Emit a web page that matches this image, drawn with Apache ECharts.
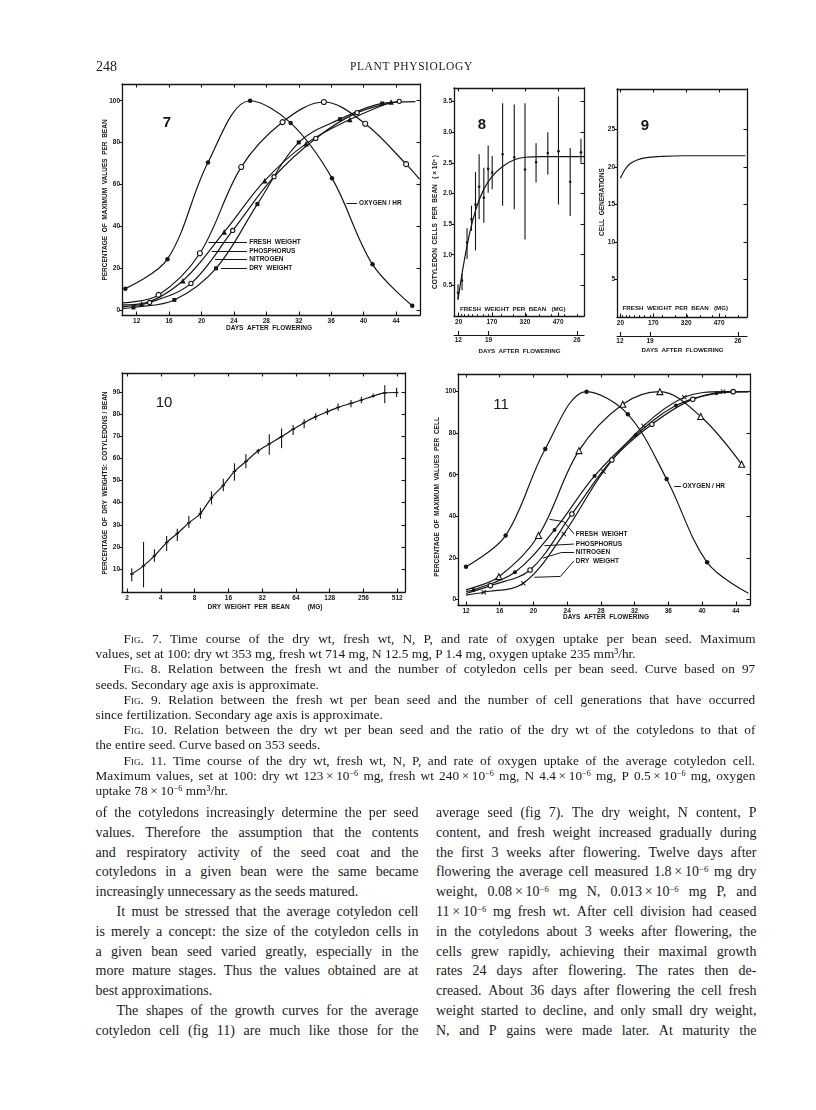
<!DOCTYPE html>
<html><head><meta charset="utf-8">
<script src="https://cdn.jsdelivr.net/npm/echarts@6/dist/echarts.min.js"></script>
<style>
html,body{margin:0;padding:0;background:#fff;}
#page{position:relative;width:816px;height:1110px;overflow:hidden;background:#fff;}
#chart{position:absolute;left:0;top:0;width:816px;height:640px;}
.ln{position:absolute;font-family:"Liberation Serif","Times New Roman",serif;color:#1a1a1a;white-space:pre;line-height:1;}
.ln.j{display:flex;justify-content:space-between;}
.ln sup{font-size:0.62em;vertical-align:0.45em;line-height:0;}
.sc{font-variant:small-caps;}
.hd{position:absolute;font-family:"Liberation Serif",serif;color:#1a1a1a;white-space:pre;}
</style></head>
<body><div id="page"><div id="chart"></div></div>
<script>
// ================= DATA =================
// Fig. 7 — per bean, % of maximum vs days after flowering
const f7XTicks = [12,16,20,24,28,32,36,40,44];
const f7YTicks = [0,20,40,60,80,100];
const f7Oxygen = [[10.6,10.2],[15.8,24.3],[20.8,70.5],[26.0,100],[31.0,89.4],[36.1,63],[41.1,21.8],[46.0,2]];
const f7Fresh  = [[10.3,3.4],[14.7,7.2],[19.8,27.1],[24.9,68.3],[30.0,89.8],[35.1,99.4],[40.2,89],[45.25,69.7],[46.9,62.5]];
const f7FreshBare = [0,8];
const f7Phos   = [[10.3,2.4],[12.6,3.0],[17.7,14],[22.8,37.3],[27.8,61.8],[32.9,79.5],[38.3,91],[43.4,99.4]];
const f7PhosBare = [0];
const f7Nitro  = [[10.3,1.6],[13.6,3.6],[18.7,12.7],[23.85,38],[28.95,63.7],[34.1,82],[39.2,94.3],[44.4,99.7]];
const f7NitroBare = [0];
const f7Dry    = [[10.3,0.8],[11.6,1.2],[16.65,4.8],[21.8,19.9],[26.9,50.6],[32.0,80.1],[37.1,91.2],[42.3,98.7],[46.4,99.6]];
const f7DryBare = [0,8];

// Fig. 8 — cotyledon cells per bean (x10^6) vs fresh weight per bean (mg)
const f8XTicks = [20,170,320,470];
const f8YTicks = [0.5,1.0,1.5,2.0,2.5,3.0,3.5];
const f8FW   = [16.8,35,57.7,77.7,95.9,112.3,133.6,153.2,171.4,218.6,271.4,320,370,423.2,471.4,524.5,573.2];
const f8Mean = [0.38,0.58,1.2,1.58,1.82,2.11,1.93,2.4,2.34,2.64,2.59,2.39,2.51,2.66,2.69,2.19,2.67];
const f8Hi   = [0.52,0.69,1.43,1.8,2.35,2.64,2.42,2.78,2.61,3.47,3.45,3.47,2.82,3.0,3.58,2.74,2.89];
const f8Lo   = [0.26,0.42,0.93,1.39,1.07,1.58,1.52,2.01,2.07,1.8,1.74,1.25,2.18,2.31,1.82,1.63,2.5];
const f8Curve = [[17,0.28],[57.7,1.15],[95.9,1.72],[133.6,2.07],[171.4,2.28],[218.6,2.44],[271.4,2.55],[320,2.59],[396,2.6],[588,2.6]];

// secondary age axis (days after flowering) placed along fresh weight
const ageDays  = [12,13,14,15,16,17,18,19,20,21,22,23,24,25,26];
const ageFW    = [18,30,45,62,82,105,129,155,212,269,326,383,440,497,555];
const ageMajor = [12,19,26];

// Fig. 9 — cell generations vs fresh weight per bean
const f9XTicks = [20,170,320,470];
const f9YTicks = [5,10,15,20,25];
const f9Curve = [[20,18.5],[39.7,19.6],[62.5,20.4],[93,20.9],[139,21.25],[200,21.4],[306,21.5],[590,21.5]];

// Fig. 10 — % dry weight in cotyledons vs dry weight per bean (log2 axis)
const f10XTicks = [2,4,8,16,32,64,128,256,512];
const f10YTicks = [10,20,30,40,50,60,70,80,90];
const f10DW   = [2.2,2.8,3.5,4.5,5.6,7.1,9,11.3,14.4,18.1,22.9,29.5,37,47.6,60.4,75.7,96,122,152,198,245,312,396,505];
const f10Mean = [7.8,11.5,16,22,26.1,30.9,35.1,42.2,47.8,54.1,58.6,63.4,66.5,69.8,73.1,76.1,78.8,81,83,84.8,86.3,88.1,89.5,89.7];
const f10Hi   = [10.4,22.3,19,25,28.2,34,37.7,45.1,50.8,57.8,62,64.3,70.9,73.5,75,77.6,80.3,82.5,84.7,86.3,87.8,89.2,93,91.9];
const f10Lo   = [4.5,1.8,13.4,18.2,22.7,28.7,32.7,39.2,45.1,49.9,55.5,62,61.6,64.6,70.5,73.6,77.3,79.6,81.5,83,84.8,87.5,84.8,87.7];

// Fig. 11 — per cotyledon cell, % of maximum vs days after flowering
const f11XTicks = [12,16,20,24,28,32,36,40,44];
const f11YTicks = [0,20,40,60,80,100];
const f11Oxygen = [[12,15.7],[16.7,30.7],[21.4,72.4],[26.3,100],[31.2,89.1],[35.8,57.9],[40.6,17.8],[45.5,2.9]];
const f11OxygenBare = [7];
const f11Fresh  = [[12,4.6],[15.9,10.9],[20.6,30.7],[25.4,71.6],[30.6,93.9],[35.0,100],[39.85,88],[44.7,65]];
const f11FreshBare = [0];
const f11Phos   = [[12,3.8],[12.9,4.5],[17.8,13],[22.5,33.4],[27.25,59.4],[32.15,79.1],[36.9,93.3],[41.7,99.2],[45.5,100]];
const f11PhosBare = [0,8];
const f11Nitro  = [[12,2.8],[14.9,6.6],[19.6,14.1],[24.56,41.1],[29.3,67.1],[34.05,84.3],[38.9,96.3],[43.7,100],[45.5,100]];
const f11NitroBare = [0,8];
const f11Dry    = [[12,2.0],[14.1,3.4],[18.8,7.7],[23.6,31.5],[28.3,61.5],[33.06,83.5],[37.9,97.3],[42.5,100],[45.5,100]];
const f11DryBare = [0,8];

// ================= TEXT =================
const capLines = [
 "\tFig. 7. Time course of the dry wt, fresh wt, N, P, and rate of oxygen uptake per bean seed. Maximum",
 "values, set at 100: dry wt 353 mg, fresh wt 714 mg, N 12.5 mg, P 1.4 mg, oxygen uptake 235 mm³/hr.\n",
 "\tFig. 8. Relation between the fresh wt and the number of cotyledon cells per bean seed. Curve based on 97",
 "seeds. Secondary age axis is approximate.\n",
 "\tFig. 9. Relation between the fresh wt per bean seed and the number of cell generations that have occurred",
 "since fertilization. Secondary age axis is approximate.\n",
 "\tFig. 10. Relation between the dry wt per bean seed and the ratio of the dry wt of the cotyledons to that of",
 "the entire seed. Curve based on 353 seeds.\n",
 "\tFig. 11. Time course of the dry wt, fresh wt, N, P, and rate of oxygen uptake of the average cotyledon cell.",
 "Maximum values, set at 100: dry wt 123×10^-6 mg, fresh wt 240×10^-6 mg, N 4.4×10^-6 mg, P 0.5×10^-6 mg, oxygen",
 "uptake 78×10^-6 mm³/hr.\n"
];
const leftLines = [
 "of the cotyledons increasingly determine the per seed",
 "values. Therefore the assumption that the contents",
 "and respiratory activity of the seed coat and the",
 "cotyledons in a given bean were the same became",
 "increasingly unnecessary as the seeds matured.\n",
 "\tIt must be stressed that the average cotyledon cell",
 "is merely a concept: the size of the cotyledon cells in",
 "a given bean seed varied greatly, especially in the",
 "more mature stages. Thus the values obtained are at",
 "best approximations.\n",
 "\tThe shapes of the growth curves for the average",
 "cotyledon cell (fig 11) are much like those for the"
];
const rightLines = [
 "average seed (fig 7). The dry weight, N content, P",
 "content, and fresh weight increased gradually during",
 "the first 3 weeks after flowering. Twelve days after",
 "flowering the average cell measured 1.8×10^-6 mg dry",
 "weight, 0.08×10^-6 mg N, 0.013×10^-6 mg P, and",
 "11×10^-6 mg fresh wt. After cell division had ceased",
 "in the cotyledons about 3 weeks after flowering, the",
 "cells grew rapidly, achieving their maximal growth",
 "rates 24 days after flowering. The rates then de-",
 "creased. About 36 days after flowering the cell fresh",
 "weight started to decline, and only small dry weight,",
 "N, and P gains were made later. At maturity the"
];

// ================= TEXT RENDER =================
const page = document.getElementById('page');
function tok(w){
  let h = w.replace(/&/g,'&amp;').replace(/</g,'&lt;');
  h = h.replace(/×/g,'\u2009×\u2009').replace(/\^-(\d+)/g,'<sup>\u2212$1</sup>');
  if (/^Fig\.$/.test(w)) h = '<span class="sc">Fig.</span>';
  return h;
}
function block(lines, left, width, top, lh, fs, indent){
  lines.forEach((raw, i) => {
    const ind = raw.startsWith('\t');
    const last = raw.endsWith('\n');
    const s = raw.replace(/^\t/,'').replace(/\n$/,'');
    const d = document.createElement('div');
    d.className = 'ln' + (last ? '' : ' j');
    d.style.left = (left + (ind ? indent : 0)) + 'px';
    d.style.width = (width - (ind ? indent : 0)) + 'px';
    d.style.top = (top + i*lh) + 'px';
    d.style.fontSize = fs + 'px';
    if (last) d.innerHTML = s.split(' ').map(tok).join(' ');
    else d.innerHTML = s.split(' ').map(w => '<span>' + tok(w) + '</span>').join('');
    page.appendChild(d);
  });
}
block(capLines, 95.5, 660, 632, 15.2, 13.3, 28);
block(leftLines, 95.5, 323, 806, 19.8, 14, 21);
block(rightLines, 436, 320.5, 806, 19.8, 14, 21);
const h1 = document.createElement('div'); h1.className='hd'; h1.textContent='248';
h1.style.cssText += 'left:96px;top:59px;font-size:14px;'; page.appendChild(h1);
const h2 = document.createElement('div'); h2.className='hd'; h2.textContent='PLANT PHYSIOLOGY';
h2.style.cssText += 'left:350px;width:118px;text-align:center;top:60px;font-size:11.5px;letter-spacing:0.6px;'; page.appendChild(h2);

// ================= CHART =================
const INK = '#161616';
const FONT = '"Liberation Sans","DejaVu Sans",Arial,sans-serif';
const lab = (o) => Object.assign({fontSize:6.5, fontWeight:'bold', color:INK, fontFamily:FONT}, o||{});
const axLine = {show:true, onZero:false, lineStyle:{color:INK, width:1.3}};
const tickStyle = {color:INK, width:1.1};

const grids = [
  {left:122, top:84, width:298, height:231},   // fig 7
  {left:454, top:88, width:130, height:228},   // fig 8
  {left:617, top:89, width:130, height:228},   // fig 9
  {left:122, top:373, width:283, height:219},  // fig 10
  {left:458, top:374, width:292, height:231}   // fig 11
];
const xAxes = [], yAxes = [];
function box(gi, c){
  const xb = {gridIndex:gi, type:c.xType||'value', min:c.xMin, max:c.xMax, position:'bottom',
    axisLine:axLine, splitLine:{show:false},
    axisTick:{show:true, inside:true, length:3.5, customValues:c.xTicks, lineStyle:tickStyle},
    axisLabel:lab({margin:3, customValues:c.xTicks})};
  if (c.logBase) xb.logBase = c.logBase;
  const xt = Object.assign({}, xb, {position:'top', axisLabel:{show:false}});
  const xi = xAxes.length; xAxes.push(xb, xt);
  const yl = {gridIndex:gi, type:'value', min:c.yMin, max:c.yMax, position:'left',
    axisLine:axLine, splitLine:{show:false},
    axisTick:{show:true, inside:false, length:3, customValues:c.yTicks, lineStyle:tickStyle},
    axisLabel:lab({margin:2, customValues:c.yTicks, formatter:c.yFmt})};
  const yr = Object.assign({}, yl, {position:'right',
    axisTick:{show:true, inside:true, length:3.5, customValues:c.yTicks, lineStyle:tickStyle},
    axisLabel:{show:false}});
  const yi = yAxes.length; yAxes.push(yl, yr);
  return {xi, yi};
}
function ageAxis(gi, min, max){
  xAxes.push({gridIndex:gi, type:'value', min, max, position:'bottom', offset:19,
    axisLine:{show:true, onZero:false, lineStyle:{color:INK, width:1.1}}, splitLine:{show:false},
    axisTick:{show:true, inside:true, length:4, customValues:ageMajor.map(d => ageFW[ageDays.indexOf(d)]), lineStyle:tickStyle},
    axisLabel:lab({margin:2, customValues:ageMajor.map(d => ageFW[ageDays.indexOf(d)]),
      formatter:(v) => String(ageDays[ageFW.indexOf(v)])})});
  xAxes.push({gridIndex:gi, type:'value', min, max, position:'bottom', offset:19,
    axisLine:{show:false}, splitLine:{show:false}, axisLabel:{show:false},
    axisTick:{show:true, inside:true, length:2, customValues:ageFW, lineStyle:{color:INK, width:0.9}}});
}

const b7  = box(0, {xMin:10.19, xMax:46.96, xTicks:f7XTicks, yMin:-2.4, yMax:108, yTicks:f7YTicks});
const b8  = box(1, {xMin:-1.4, xMax:587, xTicks:f8XTicks, yMin:0, yMax:3.72, yTicks:f8YTicks, yFmt:(v)=>v.toFixed(1)});
ageAxis(1, -1.4, 587);
const b9  = box(2, {xMin:4.5, xMax:597, xTicks:f9XTicks, yMin:0, yMax:30.4, yTicks:f9YTicks});
ageAxis(2, 4.5, 597);
const b10 = box(3, {xType:'log', logBase:2, xMin:1.8, xMax:600, xTicks:f10XTicks, yMin:-0.3, yMax:98.5, yTicks:f10YTicks});
const b11 = box(4, {xMin:11.05, xMax:45.69, xTicks:f11XTicks, yMin:-2.75, yMax:108.5, yTicks:f11YTicks});

const CROSS = 'path://M0,1.4L1.4,0L5,3.6L8.6,0L10,1.4L6.4,5L10,8.6L8.6,10L5,6.4L1.4,10L0,8.6L3.6,5Z';
function curve(b, data, bare, sym, size, open, extra){
  return Object.assign({type:'line', xAxisIndex:b.xi, yAxisIndex:b.yi, smooth:0.35, animation:false, silent:true,
    symbol:sym, symbolSize:size, showSymbol:true, showAllSymbol:true, clip:false,
    lineStyle:{color:INK, width:1.2},
    itemStyle:{color: open ? '#fff' : INK, borderColor:INK, borderWidth: open ? 1.1 : 0},
    data: data.map((p,i) => bare.indexOf(i) >= 0 ? {value:p, symbol:'none'} : p)}, extra||{});
}
function annotations(lines, texts){
  return {
    markLine:{silent:true, animation:false, symbol:['none','arrow'], symbolSize:[0,5.5], precision:3,
      lineStyle:{color:INK, width:1, type:'solid'}, label:{show:false}, emphasis:{disabled:true},
      data: lines.map(s => [{coord:s[0], symbol:'none'}, {coord:s[1], symbol: s[2] === false ? 'none' : 'arrow'}])},
    markPoint:{silent:true, animation:false, symbol:'circle', symbolSize:0.1, itemStyle:{color:'rgba(0,0,0,0)'},
      data: texts.map(t => ({coord:t[0], value:0,
        label:lab({show:true, position:'right', distance:1, formatter:t[1]})}))}
  };
}
function errBars(b, xs, mean, hi, lo, centerType){
  return {type:'custom', xAxisIndex:b.xi, yAxisIndex:b.yi, animation:false, silent:true,
    data: xs.map((x,i) => [x, mean[i], hi[i], lo[i]]),
    renderItem:(params, api) => {
      const x = api.value(0);
      const c = api.coord([x, api.value(1)]), h = api.coord([x, api.value(2)]), l = api.coord([x, api.value(3)]);
      const kids = [{type:'line', shape:{x1:h[0], y1:h[1], x2:l[0], y2:l[1]}, style:{stroke:INK, lineWidth:1.1}}];
      if (centerType === 'dot') kids.push({type:'circle', shape:{cx:c[0], cy:c[1], r:1.3}, style:{fill:INK}});
      else kids.push({type:'line', shape:{x1:c[0]-1.8, y1:c[1], x2:c[0]+1.8, y2:c[1]}, style:{stroke:INK, lineWidth:1.3}});
      return {type:'group', children:kids};
    }};
}

const series = [
  // fig 7
  curve(b7, f7Fresh, f7FreshBare, 'circle', 5, true, {z:3}),
  curve(b7, f7Phos, f7PhosBare, 'triangle', 5.5, false, {z:4}),
  curve(b7, f7Nitro, f7NitroBare, 'circle', 4.2, true, {z:4}),
  curve(b7, f7Dry, f7DryBare, 'rect', 4, false, {z:4}),
  curve(b7, f7Oxygen, [], 'circle', 4.5, false, Object.assign({z:5}, annotations(
    [[[25.6,32.3],[20.85,32.3]], [[25.6,28.3],[21.26,28.3]], [[25.6,24.4],[21.67,24.4]], [[25.6,19.9],[22.4,19.9]],
     [[39.2,51],[37.9,51]]],
    [[[25.75,32.3],'FRESH  WEIGHT'], [[25.75,28.3],'PHOSPHORUS'], [[25.75,24.4],'NITROGEN'], [[25.75,19.9],'DRY  WEIGHT'],
     [[39.3,51],'OXYGEN / HR']]))),
  // fig 8
  errBars(b8, f8FW, f8Mean, f8Hi, f8Lo, 'dot'),
  curve(b8, f8Curve, f8Curve.map((_,i)=>i), 'none', 0, false, {smooth:0.4}),
  // fig 9
  curve(b9, f9Curve, f9Curve.map((_,i)=>i), 'none', 0, false, {smooth:0.4}),
  // fig 10
  errBars(b10, f10DW, f10Mean, f10Hi, f10Lo, 'tick'),
  curve(b10, f10DW.map((x,i)=>[x, f10Mean[i]]), f10DW.map((_,i)=>i), 'none', 0, false, {smooth:0.3}),
  // fig 11
  curve(b11, f11Fresh, f11FreshBare, 'triangle', 6, true, {z:3}),
  curve(b11, f11Phos, f11PhosBare, 'circle', 4, false, {z:4}),
  curve(b11, f11Nitro, f11NitroBare, 'circle', 4.5, true, {z:4}),
  curve(b11, f11Dry, f11DryBare, CROSS, 5, false, {z:4}),
  curve(b11, f11Oxygen, f11OxygenBare, 'circle', 4.5, false, Object.assign({z:5}, annotations(
    [[[24.8,31.5],[23.6,37.4],false], [[23.6,37.4],[21.9,38.5]],
     [[24.8,26.6],[21.3,25.8]],
     [[24.8,22.5],[23.3,22.5],false], [[23.3,22.5],[21.1,19.8]],
     [[24.8,18.5],[23.2,11],false], [[23.2,11],[20.1,10.6]],
     [[37.5,54.3],[36.7,54.3]]],
    [[[24.9,31.5],'FRESH  WEIGHT'], [[24.9,26.6],'PHOSPHORUS'], [[24.9,22.5],'NITROGEN'], [[24.9,18.5],'DRY  WEIGHT'],
     [[37.55,54.3],'OXYGEN / HR']])))
];

const G = (x, y, text, o) => { o = o || {}; return {type:'text', x, y, rotation:o.rot||0, silent:true, z:10,
  style:{text, fill:INK, fontSize:o.fs||6.5, fontWeight:o.fw||'bold', fontFamily:o.ff||FONT,
    align:o.al||'center', verticalAlign:'middle'}}; };
const R = Math.PI/2;
const graphic = [
  G(105, 200, 'PERCENTAGE  OF  MAXIMUM  VALUES  PER  BEAN', {rot:R}),
  G(269, 328, 'DAYS  AFTER  FLOWERING'),
  G(167, 123, '7', {fs:15}),
  G(435, 222, 'COTYLEDON  CELLS  PER  BEAN   ( × 10\u2076 )', {rot:R}),
  G(460, 309, 'FRESH  WEIGHT  PER  BEAN   (MG)', {al:'left', fs:6.2}),
  G(519.5, 351, 'DAYS  AFTER  FLOWERING', {fs:6.2}),
  G(482, 125, '8', {fs:15}),
  G(602, 202, 'CELL  GENERATIONS', {rot:R}),
  G(622.5, 308.5, 'FRESH  WEIGHT  PER  BEAN   (MG)', {al:'left', fs:6.2}),
  G(682.5, 350, 'DAYS  AFTER  FLOWERING', {fs:6.2}),
  G(645, 126, '9', {fs:15}),
  G(105, 483, 'PERCENTAGE  OF  DRY  WEIGHTS:  COTYLEDONS / BEAN', {rot:R}),
  G(265, 607, 'DRY  WEIGHT  PER  BEAN          (MG)'),
  G(164, 403, '10', {fs:15, fw:'normal'}),
  G(437, 497, 'PERCENTAGE  OF  MAXIMUM  VALUES  PER  CELL', {rot:R}),
  G(606, 617, 'DAYS  AFTER  FLOWERING'),
  G(501, 405, '11', {fs:15, fw:'normal'})
];

const chart = echarts.init(document.getElementById('chart'), null, {renderer:'canvas'});
chart.setOption({
  animation:false, backgroundColor:'transparent',
  grid: grids, xAxis: xAxes, yAxis: yAxes, series: series, graphic: graphic
});
</script></body></html>
